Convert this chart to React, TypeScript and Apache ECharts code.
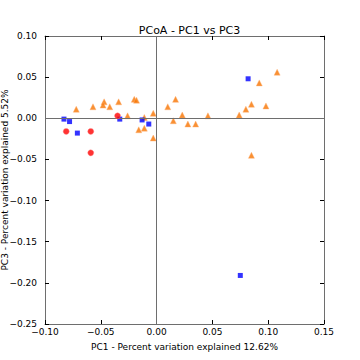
import React, { useEffect, useRef } from "react";
import * as echarts from "echarts";

const blueSquares: [number, number][] = [
  [-0.083, -0.001], [-0.078, -0.004], [-0.071, -0.018], [-0.033, -0.001],
  [-0.013, -0.002], [-0.007, -0.007], [0.082, 0.048], [0.075, -0.191],
];
const redCircles: [number, number][] = [
  [-0.081, -0.016], [-0.059, -0.016], [-0.059, -0.042], [-0.035, 0.003],
];
const orangeTriangles: [number, number][] = [
  [-0.072, 0.011], [-0.057, 0.014], [-0.047, 0.020], [-0.048, 0.016],
  [-0.042, 0.014], [-0.034, 0.020], [-0.026, 0.003], [-0.020, 0.023],
  [-0.018, 0.022], [-0.011, 0.001], [-0.003, 0.006], [-0.016, -0.014],
  [-0.011, -0.012], [-0.003, -0.024], [0.010, 0.014], [0.017, 0.023],
  [0.023, 0.004], [0.015, -0.003], [0.028, -0.007], [0.035, -0.007],
  [0.046, 0.003], [0.074, 0.004], [0.080, 0.011], [0.085, 0.017],
  [0.098, 0.015], [0.092, 0.043], [0.108, 0.056], [0.085, -0.045],
];

const title = "PCoA - PC1 vs PC3";
const xName = "PC1 - Percent variation explained 12.62%";
const yName = "PC3 - Percent variation explained 5.52%";

const fmt = (v: number) => v.toFixed(2).replace("-", "\u2212");
const FONT = "DejaVu Sans";

export default function App() {
  const ref = useRef<HTMLDivElement>(null);
  useEffect(() => {
    const chart = echarts.init(ref.current!, null, { renderer: "svg" });
    const axisCommon = {
      type: "value" as const,
      axisLine: { show: true, onZero: false, lineStyle: { color: "#6e6e6e", width: 1 } },
      axisTick: { show: true, inside: true, length: 4, lineStyle: { color: "#000" } },
      splitLine: { show: false },
    };
    chart.setOption({
      animation: false,
      backgroundColor: "#fff",
      textStyle: { fontFamily: FONT },
      title: {
        text: title,
        left: 184.5,
        textAlign: "center",
        top: 20,
        textStyle: { fontSize: 11, fontWeight: "normal", color: "#000", fontFamily: FONT },
      },
      graphic: [
        {
          type: "text",
          x: 5,
          y: 180,
          rotation: Math.PI / 2,
          style: {
            text: yName,
            fontSize: 9,
            fontFamily: FONT,
            fill: "#000",
            align: "center",
            verticalAlign: "middle",
          },
        },
      ],
      grid: { left: 45, right: 36, top: 36, bottom: 36, containLabel: false, outerBoundsMode: "none" },
      xAxis: [
        {
          ...axisCommon,
          position: "bottom",
          min: -0.1, max: 0.15, interval: 0.05,
          axisLabel: { formatter: fmt, fontSize: 9, color: "#000", margin: 3, fontFamily: FONT },
          name: xName,
          nameLocation: "middle",
          nameGap: 18,
          nameTextStyle: { fontSize: 9, color: "#000", fontFamily: FONT },
        },
        {
          ...axisCommon,
          position: "top",
          min: -0.1, max: 0.15, interval: 0.05,
          axisLabel: { show: false },
        },
      ],
      yAxis: [
        {
          ...axisCommon,
          position: "left",
          min: -0.25, max: 0.1, interval: 0.05,
          axisLabel: { formatter: fmt, fontSize: 9, color: "#000", margin: 8, fontFamily: FONT },
        },
        {
          ...axisCommon,
          position: "right",
          min: -0.25, max: 0.1, interval: 0.05,
          axisLabel: { show: false },
        },
      ],
      series: [
        {
          type: "scatter",
          data: orangeTriangles,
          symbol: "triangle",
          symbolSize: 6,
          itemStyle: { color: "#f77400", borderColor: "#ffb070", borderWidth: 0.5 },
          markLine: {
            silent: true,
            symbol: "none",
            label: { show: false },
            lineStyle: { color: "#6e6e6e", width: 1, type: "solid" },
            data: [{ xAxis: 0 }, { yAxis: 0 }],
          },
          z: 3,
        },
        {
          type: "scatter",
          data: blueSquares,
          symbol: "rect",
          symbolSize: 5,
          itemStyle: { color: "#0000ff" },
          z: 4,
        },
        {
          type: "scatter",
          data: redCircles,
          symbol: "circle",
          symbolSize: 6,
          itemStyle: { color: "#ff0000", borderColor: "#ff8080", borderWidth: 0.5 },
          z: 5,
        },
      ],
    });
    return () => chart.dispose();
  }, []);
  return <div ref={ref} style={{ width: 360, height: 360, position: "absolute", left: 0, top: 0 }} />;
}
